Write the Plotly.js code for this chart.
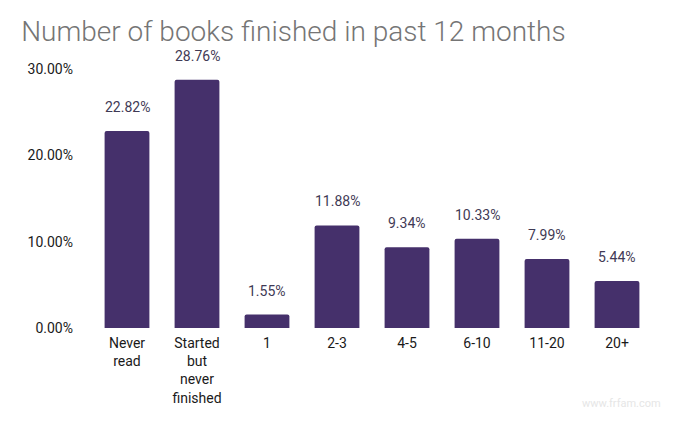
<!DOCTYPE html>
<html>
<head>
<meta charset="utf-8">
<script src="https://cdn.plot.ly/plotly-3.0.1.min.js"></script>
<style>html,body{margin:0;padding:0;background:#fff;}#chart{width:684px;height:422px;}</style>
</head>
<body>
<div id="chart"></div>
<script>
var categories = ["Never<br>read", "Started<br>but<br>never<br>finished", "1", "2-3", "4-5", "6-10", "11-20", "20+"];
var values = [22.82, 28.76, 1.55, 11.88, 9.34, 10.33, 7.99, 5.44];
var yTicks = [0, 10, 20, 30];
var yTickLabels = ["0.00%", "10.00%", "20.00%", "30.00%"];
var titleText = "Number of books finished in past 12 months";

var barColor = "#45306b";
var labelAnnotations = categories.map(function (c, i) {
  return {
    x: i, y: values[i], xref: "x", yref: "y",
    text: values[i].toFixed(2) + "%",
    showarrow: false, yanchor: "bottom", yshift: 14,
    font: {family: "Roboto", size: 14, color: "#3f3a55"}
  };
});
labelAnnotations.push({
  xref: "paper", yref: "paper", x: 1.02, y: -0.29, xanchor: "right", yanchor: "middle",
  text: "www.frfam.com", showarrow: false,
  font: {family: "Roboto", size: 11, color: "#e6e6e6"}
});

var trace = {
  type: "bar",
  x: categories,
  y: values,
  marker: {color: barColor, cornerradius: 2},
  hoverinfo: "none"
};

var layout = {
  width: 684, height: 422,
  margin: {l: 92, r: 32, t: 69, b: 94},
  paper_bgcolor: "#ffffff", plot_bgcolor: "#ffffff",
  bargap: 0.36,
  showlegend: false,
  title: {
    text: titleText, x: 0.031, xanchor: "left", xref: "container",
    y: 0.925, yanchor: "middle", yref: "container",
    font: {family: "Roboto", size: 28, color: "#757575", weight: 300}
  },
  xaxis: {
    type: "category", showgrid: false, zeroline: false, showline: false,
    ticks: "", ticklabelstandoff: 5,
    tickfont: {family: "Roboto", size: 14, color: "#1a1a1a"}
  },
  yaxis: {
    range: [0, 30], tickmode: "array", tickvals: yTicks, ticktext: yTickLabels,
    showgrid: false, zeroline: false, showline: false, ticks: "",
    ticklabelstandoff: 18,
    tickfont: {family: "Roboto", size: 14, color: "#1a1a1a"}
  },
  annotations: labelAnnotations,
  font: {family: "Roboto"}
};

Plotly.newPlot("chart", [trace], layout, {displayModeBar: false, staticPlot: true});
</script>
</body>
</html>
